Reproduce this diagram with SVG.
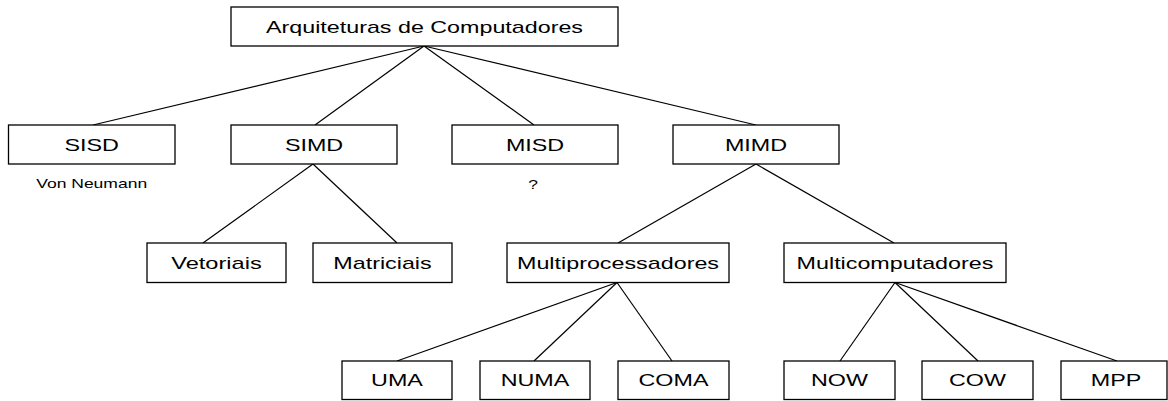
<svg xmlns="http://www.w3.org/2000/svg" width="1168" height="401" viewBox="0 0 1168 401">
<style>
rect.box{fill:#fff;stroke:#000;stroke-width:1.3}
text{font-family:"Liberation Sans",Arial,sans-serif;fill:#000;text-anchor:middle}
text.lbl{font-size:17px}
text.note{font-size:13px}
#connectors line{stroke:#000;stroke-width:1.2}
</style>
<rect width="1168" height="401" fill="#fff"/>
<g id="connectors">
<line x1="424" y1="46" x2="93" y2="125"/>
<line x1="424" y1="46" x2="315" y2="125"/>
<line x1="424" y1="46" x2="534" y2="125"/>
<line x1="424" y1="46" x2="756" y2="125"/>
<line x1="313" y1="164" x2="203" y2="243"/>
<line x1="313" y1="164" x2="397" y2="243"/>
<line x1="756" y1="164" x2="618" y2="243"/>
<line x1="756" y1="164" x2="894" y2="243"/>
<line x1="617" y1="282.5" x2="397" y2="361"/>
<line x1="617" y1="282.5" x2="534" y2="361"/>
<line x1="617" y1="282.5" x2="672" y2="361"/>
<line x1="895" y1="282.5" x2="840" y2="361"/>
<line x1="895" y1="282.5" x2="978" y2="361"/>
<line x1="895" y1="282.5" x2="1117" y2="361"/>
</g>
<g id="n-root"><rect class="box" x="231" y="7" width="387" height="39"/><text class="lbl" x="424.5" y="32.5" textLength="317" lengthAdjust="spacingAndGlyphs">Arquiteturas de Computadores</text></g>
<g id="n-sisd"><rect class="box" x="8.5" y="125" width="166.5" height="39"/><text class="lbl" x="91.7" y="150.5" textLength="54.4" lengthAdjust="spacingAndGlyphs">SISD</text></g>
<g id="n-simd"><rect class="box" x="231" y="125" width="166" height="39"/><text class="lbl" x="314" y="150.5" textLength="58.2" lengthAdjust="spacingAndGlyphs">SIMD</text></g>
<g id="n-misd"><rect class="box" x="452" y="125" width="166" height="39"/><text class="lbl" x="535" y="150.5" textLength="58.2" lengthAdjust="spacingAndGlyphs">MISD</text></g>
<g id="n-mimd"><rect class="box" x="673" y="125" width="166" height="39"/><text class="lbl" x="756" y="150.5" textLength="62.1" lengthAdjust="spacingAndGlyphs">MIMD</text></g>
<g id="n-vonneumann"><text class="note" x="91.7" y="188.3" textLength="111" lengthAdjust="spacingAndGlyphs">Von Neumann</text></g>
<g id="n-question"><text class="note" x="533" y="188.5" textLength="9.7" lengthAdjust="spacingAndGlyphs">?</text></g>
<g id="n-vetoriais"><rect class="box" x="147" y="243" width="139" height="39.5"/><text class="lbl" x="216.5" y="268.5" textLength="90.6" lengthAdjust="spacingAndGlyphs">Vetoriais</text></g>
<g id="n-matriciais"><rect class="box" x="313" y="243" width="139" height="39.5"/><text class="lbl" x="382.5" y="268.5" textLength="98.4" lengthAdjust="spacingAndGlyphs">Matriciais</text></g>
<g id="n-multiproc"><rect class="box" x="507" y="243" width="222" height="39.5"/><text class="lbl" x="618" y="268.5" textLength="202" lengthAdjust="spacingAndGlyphs">Multiprocessadores</text></g>
<g id="n-multicomp"><rect class="box" x="784" y="243" width="222" height="39.5"/><text class="lbl" x="895" y="268.5" textLength="196.8" lengthAdjust="spacingAndGlyphs">Multicomputadores</text></g>
<g id="n-uma"><rect class="box" x="342" y="361" width="110" height="38.5"/><text class="lbl" x="397" y="386" textLength="51.8" lengthAdjust="spacingAndGlyphs">UMA</text></g>
<g id="n-numa"><rect class="box" x="480" y="361" width="110" height="38.5"/><text class="lbl" x="535" y="386" textLength="68.6" lengthAdjust="spacingAndGlyphs">NUMA</text></g>
<g id="n-coma"><rect class="box" x="618" y="361" width="111" height="38.5"/><text class="lbl" x="673.5" y="386" textLength="69.9" lengthAdjust="spacingAndGlyphs">COMA</text></g>
<g id="n-now"><rect class="box" x="784" y="361" width="111" height="38.5"/><text class="lbl" x="839.5" y="386" textLength="56.9" lengthAdjust="spacingAndGlyphs">NOW</text></g>
<g id="n-cow"><rect class="box" x="922" y="361" width="111" height="38.5"/><text class="lbl" x="977.5" y="386" textLength="56.9" lengthAdjust="spacingAndGlyphs">COW</text></g>
<g id="n-mpp"><rect class="box" x="1061" y="361" width="106" height="38.5"/><text class="lbl" x="1116" y="386" textLength="50.5" lengthAdjust="spacingAndGlyphs">MPP</text></g>
</svg>
